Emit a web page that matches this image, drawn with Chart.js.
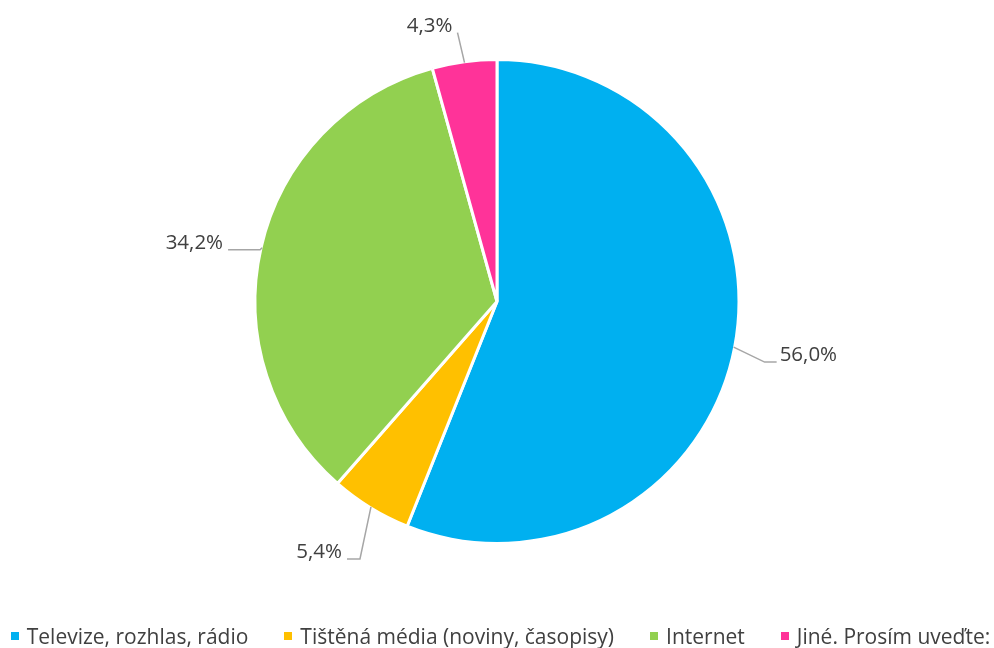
<!DOCTYPE html>
<html lang="cs">
<head>
<meta charset="utf-8">
<title>Zdroje informací</title>
<script src="https://cdn.jsdelivr.net/npm/chart.js@4/dist/chart.umd.min.js"></script>
<style>
    html, body { margin: 0; padding: 0; background: #fff; overflow: hidden; }
    #wrap { position: relative; width: 994px; height: 648px; overflow: hidden; }
    #legenda {
        position: absolute; left: 7px; right: 0; top: 624px; height: 24px;
        display: flex; justify-content: center; align-items: center; gap: 36px;
        font-family: "Open Sans", sans-serif; font-size: 21px; color: #404040;
        white-space: nowrap;
    }
    #legenda span.polozka { display: flex; align-items: center; }
    #legenda i { display: inline-block; width: 8px; height: 8px; margin-right: 8px; }
</style>
</head>
<body>
<div id="wrap">
    <canvas id="grafZdroje" width="994" height="648"></canvas>
    <div id="legenda"></div>
</div>
<script>
// DATA
const kategorie = ['Televize, rozhlas, rádio', 'Tištěná média (noviny, časopisy)', 'Internet', 'Jiné. Prosím uveďte:'];
const podily = [56.0, 5.4, 34.2, 4.3];
const barvy = ['#00B0F0', '#FFC000', '#92D050', '#FF3399'];

// odkazove cary: zlom cary vuci okraji vysece a vodorovny konec (px)
const zlomX = [31, -11, -2, -7];
const zlomY = [15, 52, 2, -30];
const caraVodorovne = [12, 13, 32, 0];

const pismoPopisku = '20.5px "Open Sans"';

function formatProcent(v) {
    return v.toFixed(1).replace('.', ',') + '%';
}

// popisky s odkazovou carou
const popiskyPlugin = {
    id: 'popisky',
    afterDatasetsDraw(chart) {
        const ctx = chart.ctx;
        const meta = chart.getDatasetMeta(0);
        ctx.save();
        ctx.font = pismoPopisku + ', sans-serif';
        ctx.textBaseline = 'middle';
        meta.data.forEach((arc, i) => {
            const uhel = (arc.startAngle + arc.endAngle) / 2;
            const cx = arc.x, cy = arc.y, r = arc.outerRadius;
            const dx = Math.cos(uhel), dy = Math.sin(uhel);
            const x0 = cx + dx * (r - 1), y0 = cy + dy * (r - 1);
            const x1 = x0 + zlomX[i], y1 = y0 + zlomY[i];
            const vpravo = dx >= 0;
            const x2 = x1 + (vpravo ? caraVodorovne[i] : -caraVodorovne[i]);

            ctx.strokeStyle = '#A6A6A6';
            ctx.lineWidth = 1.5;
            ctx.beginPath();
            ctx.moveTo(x0, y0);
            ctx.lineTo(x1, y1);
            ctx.lineTo(x2, y1);
            ctx.stroke();

            ctx.fillStyle = '#404040';
            ctx.textAlign = vpravo ? 'left' : 'right';
            ctx.fillText(formatProcent(podily[i]), x2 + (vpravo ? 3 : -5), y1 - 7);
        });
        ctx.restore();
    }
};

function nakreslitGraf() {
    const ctx = document.getElementById('grafZdroje').getContext('2d');
    new Chart(ctx, {
        type: 'pie',
        data: {
            labels: kategorie,
            datasets: [{
                data: podily,
                backgroundColor: barvy,
                borderColor: '#FFFFFF',
                borderWidth: 3
            }]
        },
        options: {
            responsive: false,
            devicePixelRatio: 1,
            animation: false,
            layout: { padding: { top: 58, bottom: 103 } },
            plugins: {
                tooltip: { enabled: false },
                legend: { display: false }
            }
        },
        plugins: [popiskyPlugin]
    });
}

// LEGENDA
const legenda = document.getElementById('legenda');
kategorie.forEach((nazev, i) => {
    const polozka = document.createElement('span');
    polozka.className = 'polozka';
    polozka.innerHTML = `<i style="background:${barvy[i]}"></i>${nazev}`;
    legenda.appendChild(polozka);
});

// pismo musi byt nactene drive, nez se kresli do canvasu
document.fonts.load(pismoPopisku).then(nakreslitGraf, nakreslitGraf);
</script>
</body>
</html>
